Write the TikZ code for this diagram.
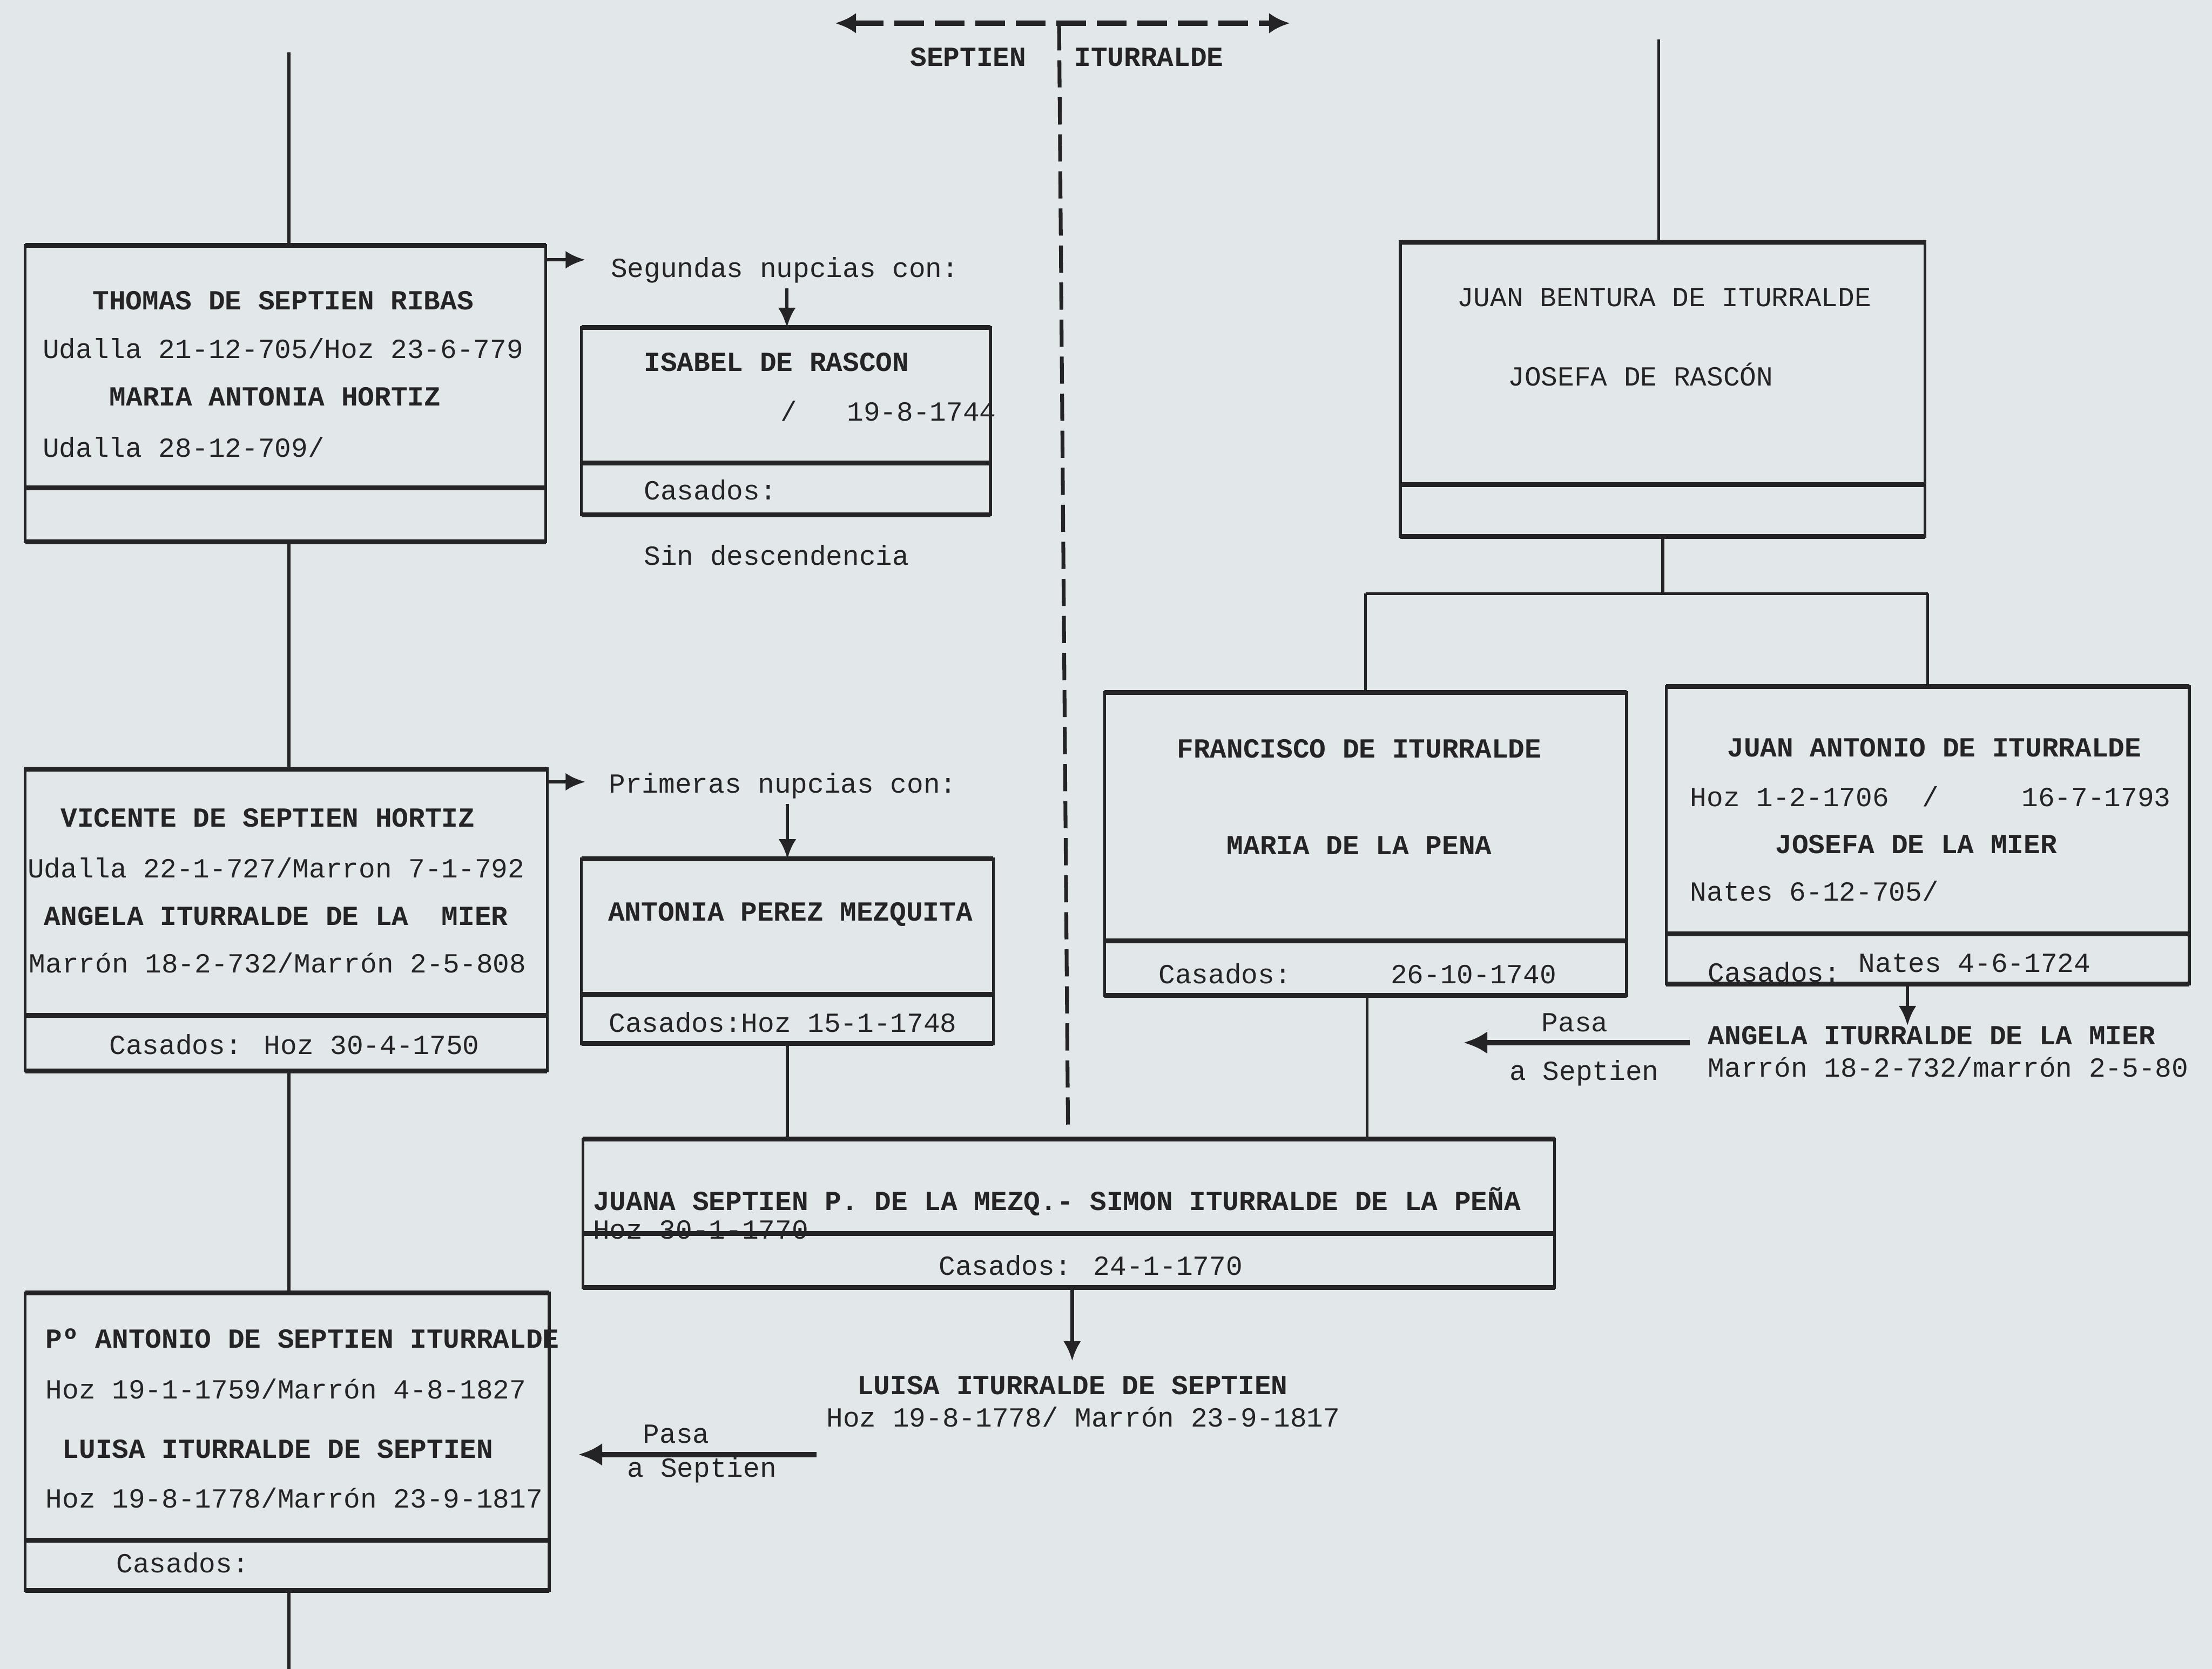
\documentclass[tikz,border=0pt]{standalone}
\usepackage{fontspec}
\newfontfamily\typer{Liberation Mono}
\usetikzlibrary{arrows.meta,calc}
\definecolor{paper}{RGB}{226,231,233}
\definecolor{ink}{RGB}{36,36,38}
\tikzset{
  card/.style={draw=ink, line width=1.7pt, inner sep=0pt, outer sep=0pt},
  rule/.style={draw=ink, line width=2.8pt},
  link/.style={draw=ink, line width=1.7pt},
  arr/.style={draw=ink, line width=2pt, -{Latex[length=0.4cm,width=0.36cm]}},
  pasa/.style={draw=ink, line width=3pt, -{Latex[length=0.48cm,width=0.46cm]}},
  split/.style={draw=ink, line width=2.2pt, dash pattern=on 0.55cm off 0.2cm},
  typed/.style={font=\typer\fontsize{15.9pt}{19pt}\selectfont, text=ink, inner sep=0pt, yshift=-0.11cm},
  typedbold/.style={typed, font=\typer\bfseries\fontsize{15.9pt}{19pt}\selectfont}
}
\newcommand{\cardlines}[2]{%
  \draw[rule] (#1.north west) -- (#1.north east);
  \draw[rule] (#1.south west) -- (#1.south east);
  \draw[rule] ([yshift=#2]#1.south west) -- ([yshift=#2]#1.south east);}
\begin{document}
\begin{tikzpicture}
  \fill[paper] (0,0) rectangle (44.78,-33.79);
  \useasboundingbox (0,0) rectangle (44.78,-33.79);

  % the two houses
  \coordinate (sepW) at (16.91,-0.47);
  \coordinate (iturE) at (26.11,-0.47);
  \coordinate (splitT) at (21.44,-0.47);
  \coordinate (splitB) at (21.62,-22.80);
  \draw[split, line width=3pt, dash pattern=on 0.6cm off 0.22cm, {Latex[length=0.42cm,width=0.42cm]}-{Latex[length=0.42cm,width=0.42cm]}] (sepW) -- (iturE);
  \draw[split] (splitT) -- (splitB);
  \node[typedbold, anchor=mid] (septien) at (19.60,-1.15) {SEPTIEN};
  \node[typedbold, anchor=mid] (iturralde) at (23.26,-1.15) {ITURRALDE};

  % Septien side
  \node[card, minimum width=10.54cm, minimum height=6cm] (thomas) at (5.78,-7.97) {};
  \cardlines{thomas}{1.09cm}
  \node[typedbold, anchor=mid] (thomasA) at (5.73,-6.08) {THOMAS DE SEPTIEN RIBAS};
  \node[typed, anchor=mid west] (thomasB) at (0.86,-7.07) {Udalla 21-12-705/Hoz 23-6-779};
  \node[typedbold, anchor=mid] (thomasC) at (5.57,-8.03) {MARIA ANTONIA HORTIZ};
  \node[typed, anchor=mid west] (thomasD) at (0.86,-9.07) {Udalla 28-12-709/};

  \node[typed, anchor=mid west] (segundas) at (12.36,-5.43) {Segundas nupcias con:};
  \node[card, minimum width=8.28cm, minimum height=3.79cm] (isabel) at (15.91,-8.525) {};
  \cardlines{isabel}{1.05cm}
  \node[typedbold, anchor=mid west] (isabelA) at (13.03,-7.33) {ISABEL DE RASCON};
  \node[typed, anchor=mid west] (isabelB) at (15.80,-8.34) {/~~~19-8-1744};
  \node[typed, anchor=mid west] (isabelC) at (13.03,-9.93) {Casados:};
  \node[typed, anchor=mid west] (sindesc) at (13.03,-11.25) {Sin descendencia};

  \node[card, minimum width=10.57cm, minimum height=6.11cm] (vicente) at (5.795,-18.625) {};
  \cardlines{vicente}{1.12cm}
  \node[typedbold, anchor=mid] (vicenteA) at (5.42,-16.56) {VICENTE DE SEPTIEN HORTIZ};
  \node[typed, anchor=mid] (vicenteB) at (5.59,-17.59) {Udalla 22-1-727/Marron 7-1-792};
  \node[typedbold, anchor=mid] (vicenteC) at (5.59,-18.55) {ANGELA ITURRALDE DE LA~~MIER};
  \node[typed, anchor=mid] (vicenteD) at (5.62,-19.51) {Marrón 18-2-732/Marrón 2-5-808};
  \node[typed, anchor=mid] (vicenteE) at (5.96,-21.16) {Casados: Hoz 30-4-1750};

  \node[typed, anchor=mid west] (primeras) at (12.32,-15.87) {Primeras nupcias con:};
  \node[card, minimum width=8.34cm, minimum height=3.74cm] (antonia) at (15.94,-19.26) {};
  \cardlines{antonia}{1.0cm}
  \node[typedbold, anchor=mid] (antoniaA) at (16.00,-18.46) {ANTONIA PEREZ MEZQUITA};
  \node[typed, anchor=mid west] (antoniaB) at (12.32,-20.71) {Casados:Hoz 15-1-1748};

  \node[card, minimum width=19.67cm, minimum height=3.01cm] (juana) at (21.635,-24.565) {};
  \cardlines{juana}{1.1cm}
  \node[typedbold, anchor=mid west] (juanaA) at (12.00,-24.32) {JUANA SEPTIEN P. DE LA MEZQ.- SIMON ITURRALDE DE LA PEÑA};
  \node[typed, anchor=mid west] (juanaB) at (12.00,-24.90) {Hoz 30-1-1770};
  \node[typed, anchor=mid] (juanaC) at (22.08,-25.63) {Casados: 24-1-1770};

  \node[typedbold, anchor=mid] (luisa) at (21.71,-28.05) {LUISA ITURRALDE DE SEPTIEN};
  \node[typed, anchor=mid] (luisaB) at (21.93,-28.70) {Hoz 19-8-1778/ Marrón 23-9-1817};

  \node[card, minimum width=10.61cm, minimum height=6.02cm] (pantonio) at (5.815,-29.19) {};
  \cardlines{pantonio}{1.01cm}
  \node[typedbold, anchor=mid west] (pantonioA) at (0.92,-27.11) {Pº ANTONIO DE SEPTIEN ITURRALDE};
  \node[typed, anchor=mid west] (pantonioB) at (0.92,-28.13) {Hoz 19-1-1759/Marrón 4-8-1827};
  \node[typedbold, anchor=mid west] (pantonioC) at (1.26,-29.34) {LUISA ITURRALDE DE SEPTIEN};
  \node[typed, anchor=mid west] (pantonioD) at (0.92,-30.34) {Hoz 19-8-1778/Marrón 23-9-1817};
  \node[typed, anchor=mid west] (pantonioE) at (2.35,-31.66) {Casados:};

  \node[typed, anchor=mid] (pasaL) at (13.69,-29.03) {Pasa};
  \node[typed, anchor=mid] (pasaLb) at (14.21,-29.72) {a Septien};

  % Iturralde side
  \node[card, minimum width=10.62cm, minimum height=5.96cm] (bentura) at (33.66,-7.88) {};
  \cardlines{bentura}{1.05cm}
  \node[typed, anchor=mid west] (benturaA) at (29.49,-6.02) {JUAN BENTURA DE ITURRALDE};
  \node[typed, anchor=mid west] (benturaB) at (30.52,-7.62) {JOSEFA DE RASCÓN};

  \node[card, minimum width=10.57cm, minimum height=6.13cm] (francisco) at (27.645,-17.085) {};
  \cardlines{francisco}{1.1cm}
  \node[typedbold, anchor=mid west] (franciscoA) at (23.82,-15.16) {FRANCISCO DE ITURRALDE};
  \node[typedbold, anchor=mid west] (franciscoB) at (24.83,-17.12) {MARIA DE LA PENA};
  \node[typed, anchor=mid west] (franciscoC) at (23.45,-19.73) {Casados:~~~~~~26-10-1740};

  \node[card, minimum width=10.59cm, minimum height=6.02cm] (juanant) at (39.025,-16.91) {};
  \cardlines{juanant}{1.01cm}
  \node[typedbold, anchor=mid] (juanantA) at (39.16,-15.14) {JUAN ANTONIO DE ITURRALDE};
  \node[typed, anchor=mid west] (juanantB) at (34.21,-16.14) {Hoz 1-2-1706~~/~~~~~16-7-1793};
  \node[typedbold, anchor=mid] (juanantC) at (38.79,-17.09) {JOSEFA DE LA MIER};
  \node[typed, anchor=mid west] (juanantD) at (34.21,-18.06) {Nates 6-12-705/};
  \node[typed, anchor=mid west] (juanantE) at (34.57,-19.70) {Casados:};
  \node[typed, anchor=mid west] (juanantF) at (37.62,-19.50) {Nates 4-6-1724};

  \node[typedbold, anchor=mid west] (angelaA) at (34.57,-20.96) {ANGELA ITURRALDE DE LA MIER};
  \node[typed, anchor=mid west] (angelaB) at (34.57,-21.62) {Marrón 18-2-732/marrón 2-5-80};
  \node[typed, anchor=mid] (pasaR) at (31.88,-20.70) {Pasa};
  \node[typed, anchor=mid] (pasaRb) at (32.07,-21.68) {a Septien};

  % lines of descent
  \coordinate (thomastop) at (5.85,-1.06);
  \coordinate (benturatop) at (33.58,-0.80);
  \coordinate (pantoniobot) at (5.85,-33.79);
  \draw[link] (thomastop) -- (thomastop |- thomas.north);
  \draw[link] (thomastop |- thomas.south) -- (thomastop |- vicente.north);
  \draw[link] (thomastop |- vicente.south) -- (thomastop |- pantonio.north);
  \draw[link] (thomastop |- pantonio.south) -- (pantoniobot);
  \draw[link] (antonia.south) -- (antonia.south |- juana.north);
  \draw[link] ([xshift=0.03cm]francisco.south) -- ([xshift=0.03cm]francisco.south |- juana.north);
  \draw[link] (benturatop) -- (benturatop |- bentura.north);
  \coordinate (fork) at ($(bentura.south)+(0,-1.16)$);
  \draw[link] (bentura.south) -- (fork);
  \draw[link] (francisco.north |- fork) -- (juanant.north |- fork);
  \draw[link] (francisco.north |- fork) -- (francisco.north);
  \draw[link] (juanant.north |- fork) -- (juanant.north);

  % arrows
  \coordinate (thomasR) at (11.85,-5.26);
  \coordinate (vicenteR) at (11.85,-15.83);
  \draw[arr] (thomasR -| thomas.east) -- (thomasR);
  \draw[arr] (vicenteR -| vicente.east) -- (vicenteR);
  \draw[arr] ($(isabel.north |- segundas.south)+(0.02,-0.1)$) -- ([xshift=0.02cm]isabel.north);
  \draw[arr] ($(antonia.north |- primeras.south)+(0,-0.1)$) -- (antonia.north);
  \draw[arr, shorten >=0.3cm] ([xshift=0.07cm]juana.south) -- ([xshift=0.07cm]juana.south |- luisa.north);
  \draw[arr] ([xshift=-0.41cm]juanant.south) -- ([xshift=-0.41cm]juanant.south |- angelaA.north);
  \coordinate (pasaLa) at (16.53,-29.45);
  \coordinate (pasaLe) at (11.71,-29.45);
  \coordinate (pasaRa) at (34.21,-21.11);
  \coordinate (pasaRe) at (29.63,-21.11);
  \draw[pasa] (pasaLa) -- (pasaLe);
  \draw[pasa] (pasaRa) -- (pasaRe);
\end{tikzpicture}
\end{document}
